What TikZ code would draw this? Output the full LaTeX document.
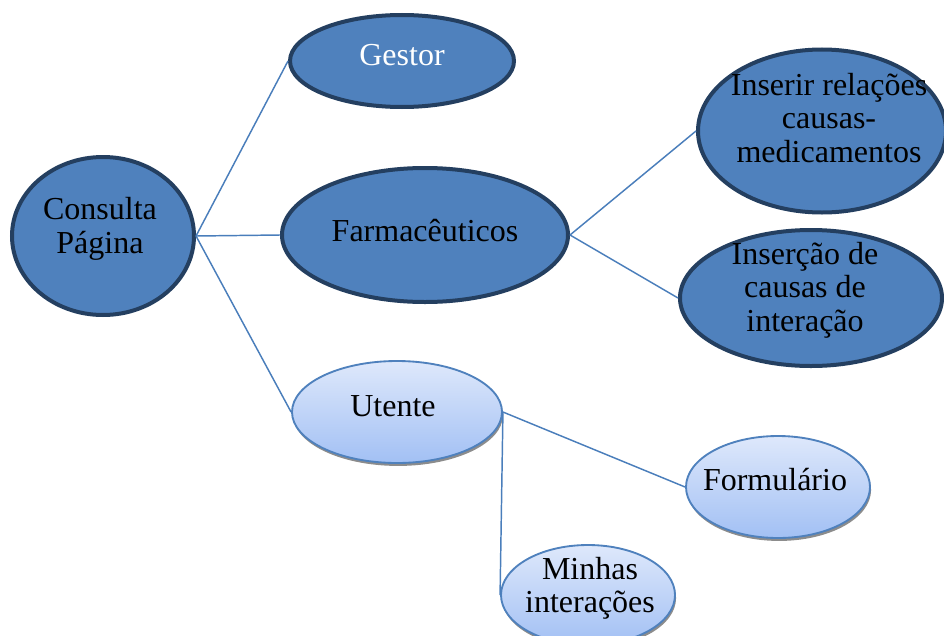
\documentclass[tikz,border=0pt]{standalone}
\usepackage{fontspec}
\setmainfont{Liberation Serif}
\usetikzlibrary{shapes.geometric,shadows}
\definecolor{fillblue}{HTML}{4F81BD}
\definecolor{darkrim}{HTML}{243F60}
\definecolor{linkblue}{HTML}{4A7EBB}
\definecolor{lighttop}{HTML}{DEE8FB}
\definecolor{lightbot}{HTML}{A2C0F4}
\begin{document}
\begin{tikzpicture}[x=0.75pt,y=-0.75pt,
  darkell/.style={ellipse,draw=darkrim,line width=3pt,fill=fillblue,inner sep=0pt},
  lightell/.style={ellipse,draw=fillblue,line width=1.4pt,top color=lighttop,bottom color=lightbot,inner sep=0pt,
     drop shadow={shadow xshift=0.8pt,shadow yshift=-2.2pt,fill=black!45,opacity=1}},
  lbl/.style={font=\fontsize{24}{25}\selectfont,align=center,inner sep=0pt,text=black},
  link/.style={draw=linkblue,line width=1.1pt}]
\useasboundingbox (0,0) rectangle (944,635);
\clip (0,0) rectangle (944,635);
% ellipses
\node[darkell,minimum width=182*0.75pt,minimum height=158*0.75pt] (consulta) at (103,236) {};
\node[darkell,minimum width=224*0.75pt,minimum height=92*0.75pt] (gestor) at (402,61) {};
\node[darkell,minimum width=286*0.75pt,minimum height=134*0.75pt] (farma) at (425,235) {};
\node[darkell,minimum width=248*0.75pt,minimum height=163*0.75pt] (inserir) at (822,131) {};
\node[darkell,minimum width=262*0.75pt,minimum height=136*0.75pt] (insercao) at (811,298) {};
\node[lightell,minimum width=210*0.75pt,minimum height=102*0.75pt] (utente) at (397,412) {};
\node[lightell,minimum width=184*0.75pt,minimum height=102*0.75pt] (form) at (778,487) {};
\node[lightell,minimum width=174*0.75pt,minimum height=100*0.75pt] (minhas) at (588,595) {};
% connectors
\draw[link] (consulta.east) -- (gestor.west);
\draw[link] (consulta.east) -- (farma.west);
\draw[link] (consulta.east) -- (utente.west);
\draw[link] (farma.east) -- (inserir.west);
\draw[link] (farma.east) -- (insercao.west);
\draw[link] (utente.east) -- (form.west);
\draw[link] (utente.east) -- (minhas.west);
% labels
\node[lbl] (consulta-t) at (100,229) {Consulta\\Página};
\node[lbl,text=white] (gestor-t) at (402,55) {Gestor};
\node[lbl] (farma-t) at (425,231) {Farmacêuticos};
\node[lbl] (inserir-t) at (829,118) {Inserir relações\\causas-\\medicamentos};
\node[lbl] (insercao-t) at (805,290) {Inserção de\\causas de\\interação};
\node[lbl] (utente-t) at (393,406) {Utente};
\node[lbl] (form-t) at (775,480) {Formulário};
\node[lbl] (minhas-t) at (590,588) {Minhas\\interações};
\end{tikzpicture}
\end{document}
